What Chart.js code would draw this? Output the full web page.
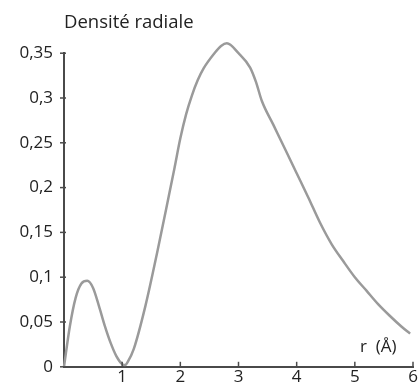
<!DOCTYPE html>
<html>
<head>
<meta charset="utf-8">
<script src="https://cdn.jsdelivr.net/npm/chart.js@4"></script>
<style>
html,body{margin:0;padding:0;background:#fff;}
#wrap{width:418px;height:388px;position:relative;}
</style>
</head>
<body>
<div id="wrap"><canvas id="c" width="418" height="388"></canvas></div>
<script>
const chartTitle = "Densité radiale";
const xAxisLabel = "r  (Å)";
const rValues = [0, 0.1, 0.2, 0.3, 0.4, 0.5, 0.6, 0.7, 0.8, 0.9, 1.0, 1.05, 1.1, 1.2, 1.4, 1.6, 1.8, 1.9, 2.0, 2.1, 2.2, 2.3, 2.4, 2.6, 2.7, 2.8, 3.0, 3.2, 3.3, 3.4, 3.6, 3.8, 4.0, 4.2, 4.4, 4.6, 4.8, 5.0, 5.2, 5.4, 5.6, 5.8, 5.95];
const densityValues = [0, 0.045, 0.077, 0.093, 0.096, 0.088, 0.068, 0.046, 0.027, 0.012, 0.003, 0.002, 0.006, 0.02, 0.068, 0.127, 0.19, 0.222, 0.255, 0.282, 0.303, 0.32, 0.333, 0.351, 0.358, 0.361, 0.35, 0.334, 0.318, 0.297, 0.27, 0.243, 0.216, 0.189, 0.161, 0.137, 0.118, 0.1, 0.085, 0.07, 0.057, 0.045, 0.037];
const xTicks = [0, 1, 2, 3, 4, 5, 6];
const yTicks = [0, 0.05, 0.1, 0.15, 0.2, 0.25, 0.3, 0.35];

const FONT = "'Open Sans', 'DejaVu Sans', sans-serif";
const AXIS = "#4a4a4a";

const points = rValues.map((r, i) => ({x: r, y: densityValues[i]}));

const decoPlugin = {
  id: 'deco',
  afterDraw(chart) {
    const ctx = chart.ctx;
    const xs = chart.scales.x, ys = chart.scales.y;
    const y0 = ys.getPixelForValue(0);
    const x0 = xs.getPixelForValue(0);
    ctx.save();
    ctx.strokeStyle = AXIS;
    ctx.lineWidth = 1.5;
    xTicks.forEach(v => {
      if (v === 0) return;
      const px = xs.getPixelForValue(v);
      ctx.beginPath(); ctx.moveTo(px, y0 - 5); ctx.lineTo(px, y0 + 1); ctx.stroke();
    });
    yTicks.forEach(v => {
      const py = ys.getPixelForValue(v);
      ctx.beginPath(); ctx.moveTo(x0 - 4, py); ctx.lineTo(x0 + 2, py); ctx.stroke();
    });
    ctx.fillStyle = "#222";
    ctx.font = "17px " + FONT;
    ctx.textAlign = "left";
    ctx.textBaseline = "middle";
    ctx.fillText(xAxisLabel, 360, 347);
    ctx.restore();
  }
};

new Chart(document.getElementById('c'), {
  type: 'line',
  data: {
    datasets: [{
      data: points,
      borderColor: '#9a9a9a',
      borderWidth: 2.5,
      pointRadius: 0,
      tension: 0.4,
      cubicInterpolationMode: 'monotone',
      fill: false,
      clip: false
    }]
  },
  options: {
    responsive: false,
    animation: false,
    layout: {padding: {left: 0, right: 5, top: 0, bottom: 0}},
    plugins: {
      legend: {display: false},
      tooltip: {enabled: false},
      title: {
        display: true,
        text: chartTitle,
        align: 'start',
        fullSize: false,
        color: '#222',
        font: {family: FONT, size: 18.5, weight: 'normal', lineHeight: 1.2},
        padding: {top: 12, bottom: 19}
      }
    },
    scales: {
      x: {
        type: 'linear',
        min: 0, max: 6,
        afterBuildTicks(scale) { scale.ticks = xTicks.map(v => ({value: v})); },
        afterFit(scale) { scale.height = 20; },
        grid: {display: false, drawTicks: false},
        border: {display: true, color: AXIS, width: 2},
        ticks: {
          padding: 0,
          maxRotation: 0,
          autoSkip: false,
          color: '#222',
          font: {family: FONT, size: 17},
          callback: v => v === 0 ? '' : String(v)
        }
      },
      y: {
        type: 'linear',
        min: 0, max: 0.35,
        afterBuildTicks(scale) { scale.ticks = yTicks.map(v => ({value: v})); },
        afterFit(scale) { scale.width = 64; },
        grid: {display: false, drawTicks: false},
        border: {display: true, color: AXIS, width: 2},
        ticks: {
          padding: 11,
          autoSkip: false,
          color: '#222',
          font: {family: FONT, size: 17},
          callback: v => String(Math.round(v * 100) / 100).replace('.', ',')
        }
      }
    }
  },
  plugins: [decoPlugin]
});
</script>
</body>
</html>
